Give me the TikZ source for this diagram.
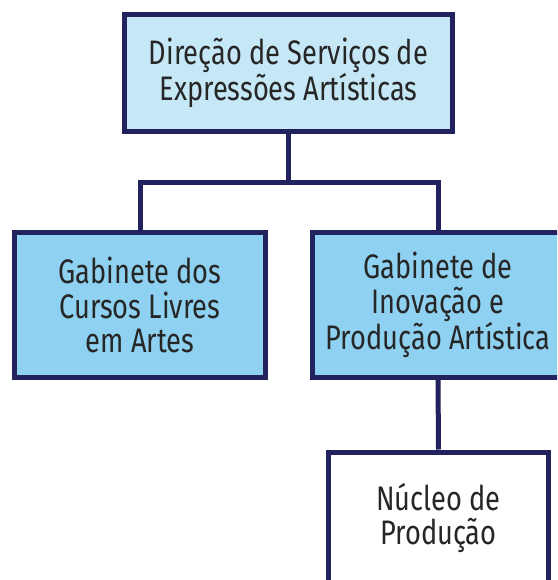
\documentclass[tikz,border=0pt]{standalone}
\usepackage{fontspec}
\setmainfont[FakeStretch=0.8]{Fira Sans}
\usepackage{tikz}

\definecolor{navy}{HTML}{22235E}
\definecolor{paleblue}{HTML}{C6E7F6}
\definecolor{midblue}{HTML}{8ED1F0}

\tikzset{
  unit/.style={draw=navy, line width=5pt, align=center, inner sep=0pt,
               font=\fontsize{34}{34.5}\selectfont, text=black!85},
  link/.style={draw=navy, line width=5pt},
}

\begin{document}
\begin{tikzpicture}[x=1pt,y=-1pt]
        \useasboundingbox (0,0) rectangle (557,580);                  %
        \clip (0,0) rectangle (557,580);                              %
        \fill [white] (0,0) rectangle (557,580);                      %

        \node [unit, fill=paleblue, minimum width=328pt, minimum height=117pt]
              (dir) at (288.5,73)  {Direção de Serviços de\\Expressões Artísticas}; %top
        \node [unit, fill=midblue, minimum width=251pt, minimum height=145pt]
              (gcl) at (140,305)   {Gabinete dos\\Cursos Livres\\em Artes};         %left
        \node [unit, fill=midblue, minimum width=251pt, minimum height=145pt]
              (gip) at (438,305)   {Gabinete de\\Inovação e\\Produção Artística};   %right
        \node [unit, fill=white, minimum width=220pt, minimum height=132pt]
              (np)  at (438.5,518) {Núcleo de\\Produção};                           %bottom

        \coordinate (bus) at (288.5,182);                             %
        \draw [link] (dir.south) -- (bus) -| (gcl.north);             %
        \draw [link] (bus) -| (gip.north);                            %
        \draw [link] (gip.south) -- (np.north);                       %
\end{tikzpicture}
\end{document}
